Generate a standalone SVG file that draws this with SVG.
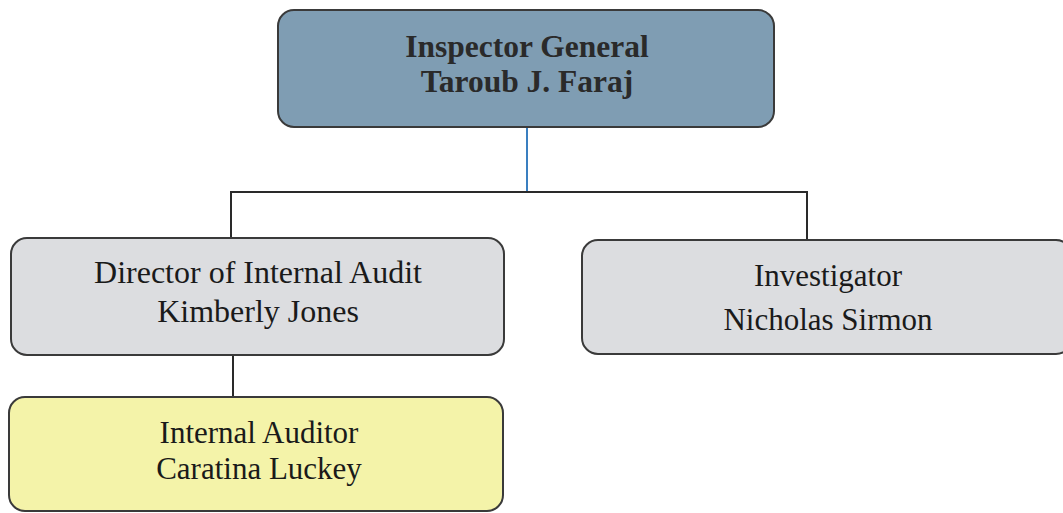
<svg xmlns="http://www.w3.org/2000/svg" width="1063" height="513" viewBox="0 0 1063 513">
<style>
.box{stroke:#3a3a3a;stroke-width:2}
.t{font-family:"Liberation Serif","Times New Roman",serif;font-size:31px;fill:#1a1a1a;text-anchor:middle}
.b{font-weight:bold;fill:#2a2a2a;font-size:31.5px}
.ln{fill:none;stroke:#2a2a2a;stroke-width:2}
</style>
<rect width="1063" height="513" fill="#ffffff"/>
<g id="connectors">
<line x1="527" y1="128" x2="527" y2="192" stroke="#3a7fc0" stroke-width="2"/>
<polyline class="ln" points="231,238 231,192 807,192 807,240"/>
<line class="ln" x1="233" y1="355" x2="233" y2="397"/>
</g>
<g id="inspector-general">
<rect class="box" x="278" y="10" width="496" height="117" rx="16" fill="#7f9db3"/>
<text class="t b" x="527" y="57">Inspector General</text>
<text class="t b" x="527" y="92">Taroub J. Faraj</text>
</g>
<g id="director">
<rect class="box" x="11" y="238" width="493" height="117" rx="16" fill="#dcdde0"/>
<text class="t" x="258" y="283" style="font-size:32px">Director of Internal Audit</text>
<text class="t" x="258" y="322" style="font-size:32px">Kimberly Jones</text>
</g>
<g id="investigator">
<rect class="box" x="582" y="240" width="490" height="114" rx="16" fill="#dcdde0"/>
<text class="t" x="828" y="286">Investigator</text>
<text class="t" x="828" y="330">Nicholas Sirmon</text>
</g>
<g id="internal-auditor">
<rect class="box" x="9" y="397" width="494" height="114" rx="16" fill="#f4f3a9"/>
<text class="t" x="259" y="443">Internal Auditor</text>
<text class="t" x="259" y="479">Caratina Luckey</text>
</g>
</svg>
